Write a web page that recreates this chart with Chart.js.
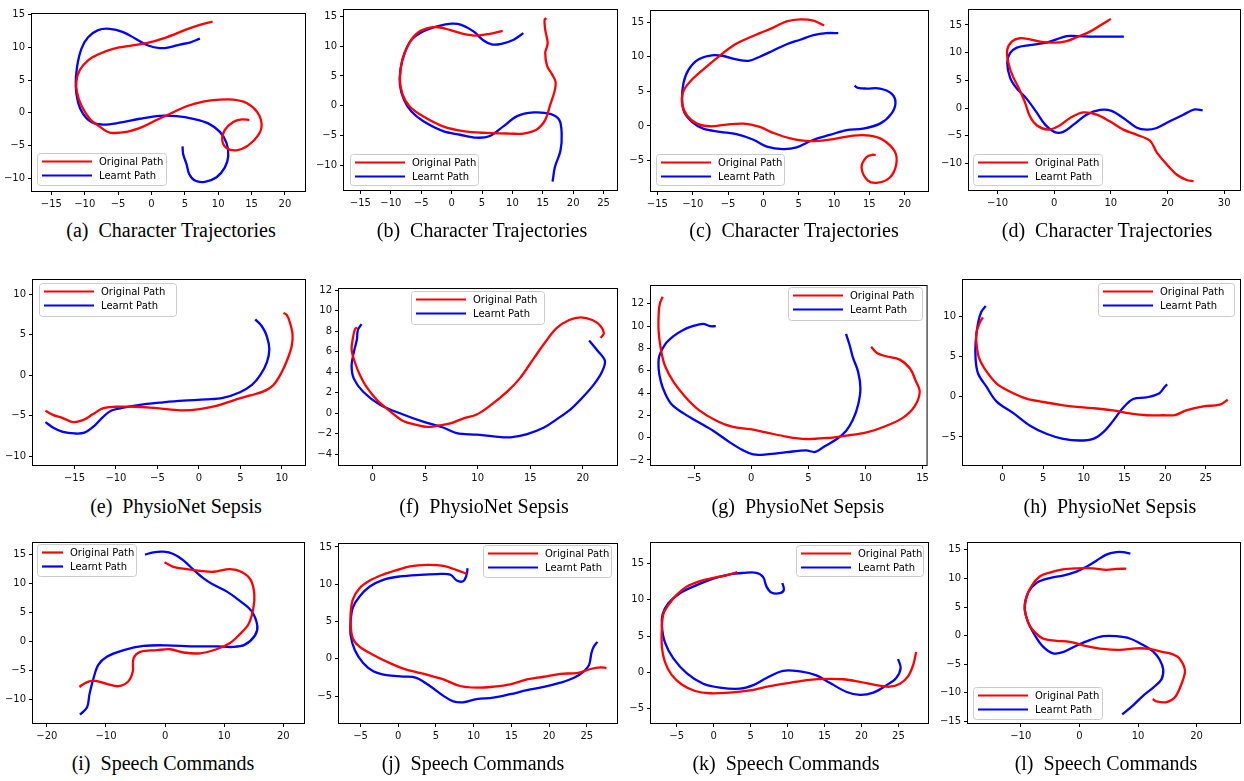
<!DOCTYPE html>
<html>
<head>
<meta charset="utf-8">
<script src="https://cdn.jsdelivr.net/npm/chart.js@4"></script>
<style>
  html, body { margin: 0; padding: 0; background: #fff; }
  body { width: 1244px; height: 781px; position: relative; overflow: hidden; }
  canvas { position: absolute; }
  .cap { position: absolute; font-family: "Liberation Serif", "Times New Roman", serif; font-size: 20px;
         color: #000; white-space: pre; transform: translateX(-50%); line-height: 24px; }
</style>
</head>
<body>
<script>
// Path data, [x, y] pairs
const aOriginal = [[9.15,13.9],[7.25,13.4],[5.25,12.7],[2.25,11.5],[-0.75,10.6],[-3.25,10.2],[-5.75,9.75],[-7.75,9.0],[-9.5,8.0],[-10.75,6.5],[-11.25,4.8],[-11.15,3.1],[-10.5,1.1],[-9.25,-0.9],[-7.75,-2.1],[-6.25,-3.0],[-3.75,-2.9],[-1.25,-2.1],[0.75,-1.1],[3.25,0.1],[5.25,1.0],[7.75,1.7],[10.25,2.0],[12.25,2.0],[14.25,1.5],[15.85,0.1],[16.5,-1.8],[16.0,-3.4],[14.5,-4.95],[12.75,-5.7],[11.25,-5.35],[10.6,-4.1],[11.0,-2.6],[12.25,-1.4],[13.5,-1.0],[14.65,-1.1]];
const aLearnt = [[7.25,11.3],[5.75,10.7],[4.25,10.4],[2.75,10.0],[1.25,9.85],[-0.5,10.25],[-2.25,11.2],[-4.25,12.3],[-6.25,12.8],[-8.0,12.6],[-9.5,11.5],[-10.5,9.75],[-11.15,7.0],[-11.35,4.1],[-11.0,1.6],[-10.25,-0.15],[-9.0,-1.4],[-7.25,-1.8],[-4.75,-1.5],[-1.75,-0.9],[1.25,-0.45],[3.75,-0.5],[6.25,-0.9],[8.5,-1.6],[10.25,-2.9],[11.25,-4.6],[11.5,-6.6],[11.0,-8.3],[9.75,-9.8],[8.0,-10.5],[6.5,-10.3],[5.65,-9.3],[5.25,-7.8],[4.75,-6.3],[4.65,-5.1]];

const bOriginal = [[8.4,12.6],[6.3,12.1],[4.1,11.8],[1.9,12.1],[-0.3,12.75],[-2.2,13.2],[-4.1,13.0],[-5.8,12.1],[-7.1,10.3],[-8.1,7.8],[-8.5,4.5],[-8.1,2.0],[-6.9,-0.15],[-4.7,-1.8],[-1.4,-3.5],[1.9,-4.3],[5.8,-4.6],[9.6,-4.7],[11.8,-4.7],[14.0,-4.0],[15.4,-2.4],[16.2,0.1],[16.9,2.3],[17.1,4.0],[16.5,5.3],[15.7,6.7],[15.4,8.9],[15.8,10.5],[15.4,12.75],[15.3,14.5],[15.6,14.7]];
const bLearnt = [[11.8,12.2],[10.2,11.1],[8.2,10.4],[6.6,10.3],[5.2,11.0],[3.6,12.5],[1.6,13.6],[0.0,13.8],[-2.2,13.4],[-4.7,12.5],[-6.6,11.1],[-7.7,8.9],[-8.4,6.2],[-8.5,3.4],[-7.8,0.9],[-6.6,-1.0],[-4.7,-2.6],[-1.4,-4.3],[1.4,-4.9],[4.1,-5.4],[6.3,-5.1],[8.5,-3.5],[10.7,-1.8],[13.5,-1.15],[16.2,-1.4],[17.7,-2.4],[18.1,-4.8],[17.9,-7.6],[17.0,-10.3],[16.6,-12.8]];

const cOriginal = [[8.6,14.5],[7.1,15.2],[5.2,15.4],[3.3,15.1],[1.4,14.2],[-0.5,13.4],[-2.35,12.6],[-4.2,11.65],[-6.1,10.2],[-8.0,8.6],[-10.1,6.7],[-11.3,5.05],[-11.5,3.2],[-10.8,1.5],[-9.4,0.33],[-7.5,-0.05],[-5.2,0.2],[-2.8,0.33],[-0.5,-0.15],[1.4,-1.0],[3.8,-1.8],[6.6,-2.2],[9.9,-1.9],[12.7,-1.4],[15.1,-1.4],[16.9,-2.0],[18.6,-3.7],[18.8,-5.6],[17.9,-7.45],[16.2,-8.2],[14.8,-7.9],[13.9,-6.0],[14.6,-4.5],[15.5,-4.15],[15.9,-4.25]];
const cLearnt = [[10.6,13.4],[8.9,13.4],[7.1,13.1],[5.2,12.45],[3.3,11.8],[1.4,10.9],[-0.5,10.0],[-2.1,9.4],[-3.8,9.6],[-5.65,10.1],[-7.3,10.2],[-9.2,9.6],[-10.6,8.1],[-11.3,6.2],[-11.5,3.9],[-11.2,2.0],[-10.1,0.6],[-8.5,-0.4],[-6.1,-0.85],[-3.8,-1.2],[-1.4,-2.0],[0.5,-3.0],[2.8,-3.35],[4.7,-3.1],[7.1,-2.0],[9.4,-1.3],[11.8,-0.6],[14.1,-0.4],[16.5,0.33],[18.1,1.75],[18.7,3.4],[18.1,4.7],[16.5,5.4],[14.6,5.4],[13.4,5.5],[12.9,5.8]];

const dOriginal = [[10.0,16.1],[8.1,14.9],[6.3,13.8],[4.2,12.9],[2.2,12.1],[-0.2,11.8],[-2.5,12.0],[-4.3,12.4],[-6.1,12.6],[-7.5,12.0],[-8.3,10.5],[-8.1,8.2],[-7.35,5.8],[-6.35,3.8],[-5.2,1.1],[-4.3,-1.5],[-3.1,-3.1],[-1.1,-3.9],[0.7,-3.3],[2.8,-1.8],[5.1,-0.8],[7.5,-1.2],[9.8,-2.4],[12.2,-3.9],[14.5,-4.8],[16.9,-5.9],[18.1,-8.0],[19.8,-10.1],[21.6,-12.0],[23.4,-13.0],[24.6,-13.2]];
const dLearnt = [[12.3,12.9],[9.8,12.9],[6.9,12.9],[3.9,13.0],[2.2,13.0],[0.4,12.4],[-1.9,11.7],[-4.3,11.35],[-6.6,10.9],[-7.8,9.9],[-8.3,8.2],[-7.8,5.5],[-6.6,3.5],[-4.9,1.7],[-3.2,-0.65],[-1.6,-3.0],[0.1,-4.35],[1.6,-4.3],[3.4,-3.0],[5.7,-1.2],[8.1,-0.35],[10.1,-0.5],[12.2,-1.8],[14.5,-3.5],[16.3,-3.9],[18.1,-3.6],[20.4,-2.4],[22.8,-1.2],[24.8,-0.25],[26.2,-0.4]];

const eOriginal = [[-18.5,-4.4],[-17.6,-4.9],[-16.4,-5.3],[-15.2,-5.8],[-14.0,-5.56],[-12.8,-4.84],[-11.6,-4.1],[-10.0,-3.9],[-7.9,-3.9],[-5.9,-4.0],[-3.9,-4.2],[-1.9,-4.35],[0.1,-4.2],[2.1,-3.8],[4.2,-3.1],[6.2,-2.5],[7.8,-2.0],[9.0,-1.2],[10.0,0.4],[10.7,2.0],[11.2,3.6],[11.3,5.0],[11.0,6.45],[10.6,7.45],[10.2,7.7]];
const eLearnt = [[-18.5,-5.8],[-17.6,-6.45],[-16.4,-7.0],[-15.0,-7.2],[-13.8,-7.1],[-12.6,-6.25],[-11.6,-5.2],[-10.6,-4.4],[-8.75,-3.95],[-6.7,-3.6],[-4.3,-3.35],[-1.9,-3.15],[0.9,-3.0],[2.9,-2.8],[4.96,-2.1],[6.4,-1.2],[7.4,0.0],[8.2,1.6],[8.5,3.2],[8.2,4.8],[7.6,6.05],[6.8,6.9]];

const fOriginal = [[21.7,7.36],[22.0,7.8],[21.7,8.5],[20.9,9.1],[19.8,9.36],[18.7,9.1],[17.5,8.3],[16.4,6.9],[15.3,5.3],[14.0,3.4],[12.8,2.1],[11.3,0.83],[9.9,-0.13],[8.65,-0.5],[7.4,-1.0],[6.3,-1.2],[5.2,-1.34],[4.2,-1.15],[2.9,-0.76],[1.65,0.2],[0.4,1.3],[-0.6,2.6],[-1.2,3.7],[-1.7,5.0],[-2.0,6.2],[-1.9,7.2],[-1.7,8.15],[-1.5,8.4]];
const fLearnt = [[20.6,7.1],[21.4,6.1],[22.1,5.1],[21.8,4.0],[21.0,2.74],[19.9,1.46],[18.8,0.35],[17.5,-0.6],[16.3,-1.4],[14.7,-2.04],[13.1,-2.36],[11.5,-2.26],[9.9,-2.1],[8.0,-1.94],[6.7,-1.4],[4.8,-0.83],[2.9,-0.13],[0.7,0.83],[-0.9,2.1],[-1.8,3.4],[-2.0,4.65],[-1.8,5.9],[-1.5,7.2],[-1.4,8.15],[-1.05,8.7]];

const gOriginal = [[-7.75,12.64],[-8.0,12.0],[-8.1,11.1],[-8.1,9.5],[-7.9,7.9],[-7.55,6.45],[-6.8,5.0],[-5.8,3.7],[-4.6,2.5],[-3.0,1.5],[-1.6,0.96],[-0.1,0.76],[1.3,0.47],[3.1,0.09],[4.8,-0.12],[6.6,-0.03],[8.3,0.18],[10.1,0.47],[11.8,1.05],[13.3,1.8],[14.3,2.8],[14.75,4.1],[14.4,5.1],[13.9,6.2],[13.0,7.0],[11.8,7.3],[11.0,7.6],[10.5,8.15]];
const gLearnt = [[-3.1,10.0],[-3.6,10.0],[-4.2,10.2],[-5.0,10.04],[-5.95,9.66],[-6.8,9.1],[-7.55,8.35],[-8.05,7.3],[-8.1,6.16],[-7.9,5.0],[-7.55,4.0],[-6.97,3.0],[-5.95,2.2],[-4.8,1.5],[-3.3,0.6],[-1.9,-0.4],[-0.7,-1.14],[0.17,-1.5],[1.34,-1.5],[3.1,-1.3],[4.8,-1.14],[5.6,-1.28],[6.3,-0.85],[7.5,-0.12],[8.3,0.6],[8.9,1.6],[9.36,2.95],[9.56,4.4],[9.36,5.9],[8.9,7.2],[8.6,8.35],[8.3,9.3]];

const hOriginal = [[-2.4,9.9],[-2.8,9.2],[-3.2,8.0],[-3.2,6.75],[-2.9,4.9],[-2.2,3.5],[-0.74,1.67],[0.9,0.65],[2.95,-0.24],[5.0,-0.65],[7.5,-1.06],[9.5,-1.3],[11.56,-1.46],[13.6,-1.7],[15.65,-2.07],[17.7,-2.3],[19.75,-2.3],[21.2,-2.28],[22.6,-1.7],[24.7,-1.2],[26.7,-0.98],[27.7,-0.37]];
const hLearnt = [[-2.05,11.3],[-2.6,10.6],[-3.0,9.2],[-3.3,6.75],[-3.3,4.7],[-3.0,2.9],[-1.97,1.26],[-0.74,-0.57],[1.3,-2.0],[3.4,-3.6],[5.4,-4.6],[7.46,-5.24],[9.5,-5.45],[11.15,-5.24],[12.4,-4.4],[13.6,-3.0],[14.8,-1.4],[16.07,-0.28],[17.7,-0.08],[19.3,0.45],[19.96,1.26],[20.25,1.55]];

const iOriginal = [[-0.1,13.7],[1.4,12.9],[3.66,12.5],[5.9,12.2],[8.2,12.05],[11.0,12.5],[12.96,12.0],[14.5,10.6],[15.1,8.1],[14.9,5.6],[14.1,3.0],[12.7,1.35],[11.0,-0.23],[8.7,-1.3],[5.9,-2.0],[3.1,-1.86],[0.85,-1.3],[-1.4,-1.46],[-4.2,-1.75],[-5.35,-2.9],[-5.46,-5.1],[-6.2,-6.8],[-7.9,-7.66],[-9.86,-7.26],[-12.1,-6.7],[-13.5,-7.1],[-14.5,-7.8]];
const iLearnt = [[-3.4,15.0],[-1.97,15.4],[-0.28,15.5],[1.4,15.1],[3.1,14.0],[4.8,12.4],[6.5,10.9],[8.2,9.8],[10.4,8.67],[12.7,7.0],[14.6,5.3],[15.6,2.76],[15.2,1.07],[13.5,-0.5],[11.5,-0.9],[8.7,-0.8],[4.8,-0.8],[0.28,-0.62],[-3.66,-0.73],[-7.0,-1.46],[-9.86,-2.6],[-11.3,-4.0],[-12.1,-6.25],[-12.8,-9.07],[-13.2,-11.3],[-14.4,-12.56]];

const jOriginal = [[9.1,11.4],[7.76,11.9],[6.0,12.46],[3.77,12.6],[1.55,12.4],[-0.2,11.9],[-2.0,11.3],[-3.77,10.5],[-5.1,9.5],[-6.0,8.0],[-6.3,6.2],[-6.3,4.5],[-6.0,2.7],[-5.1,1.6],[-3.3,0.53],[-1.1,-0.57],[1.1,-1.45],[3.77,-2.1],[6.0,-2.76],[8.2,-3.64],[10.4,-3.86],[12.6,-3.73],[14.85,-3.42],[17.07,-2.76],[19.3,-2.4],[21.5,-2.0],[23.7,-1.9],[25.5,-1.36],[26.8,-1.14],[27.6,-1.23]];
const jLearnt = [[9.2,12.15],[9.0,11.05],[8.6,10.4],[7.76,10.5],[6.9,11.3],[5.1,11.36],[2.9,11.27],[0.22,11.05],[-2.0,10.6],[-3.77,9.7],[-5.1,8.4],[-6.0,6.9],[-6.3,5.1],[-6.3,3.16],[-5.76,1.18],[-4.65,-0.57],[-3.3,-1.67],[-1.55,-2.19],[0.66,-2.37],[2.4,-2.54],[4.2,-3.64],[6.0,-4.96],[7.3,-5.7],[8.6,-5.83],[10.4,-5.4],[12.6,-5.2],[14.85,-4.74],[17.07,-4.2],[19.3,-3.77],[21.5,-3.2],[23.3,-2.54],[24.6,-1.67],[25.3,-0.8],[25.6,0.75],[25.9,1.6],[26.4,2.28]];

const kOriginal = [[3.2,13.8],[1.76,13.36],[-0.05,13.0],[-1.85,12.56],[-3.65,11.8],[-5.0,10.67],[-6.1,9.3],[-6.8,8.0],[-7.0,5.96],[-7.0,3.5],[-6.6,1.48],[-5.7,-0.3],[-4.3,-1.66],[-2.5,-2.56],[-0.5,-2.87],[2.2,-2.78],[4.9,-2.47],[7.6,-1.88],[10.3,-1.43],[13.0,-1.03],[15.3,-0.9],[17.5,-0.94],[19.8,-1.3],[22.0,-1.75],[23.8,-1.97],[25.2,-1.57],[26.3,-0.54],[27.0,1.03],[27.4,2.8]];
const kLearnt = [[9.3,12.3],[9.5,11.35],[8.96,10.9],[7.8,11.0],[7.16,11.8],[6.7,13.1],[5.8,13.7],[4.0,13.68],[2.2,13.5],[-0.05,12.9],[-2.3,12.0],[-4.55,10.9],[-6.1,9.55],[-6.9,8.0],[-7.0,6.4],[-6.6,4.17],[-5.45,1.93],[-3.65,-0.09],[-1.4,-1.57],[0.86,-2.1],[3.56,-2.24],[5.36,-1.75],[7.16,-0.76],[9.4,0.22],[11.7,0.13],[13.9,-0.4],[15.7,-1.43],[18.0,-2.69],[19.8,-3.1],[21.6,-2.78],[23.4,-1.75],[24.7,-0.76],[25.3,0.58],[24.95,1.84]];

const lOriginal = [[8.0,11.7],[6.3,11.66],[4.6,11.5],[2.3,11.77],[-0.5,11.77],[-2.8,11.6],[-5.07,11.03],[-6.77,10.34],[-8.2,8.63],[-9.05,6.63],[-9.33,4.63],[-8.76,2.34],[-7.9,0.91],[-6.2,-0.51],[-3.9,-0.91],[-1.65,-1.09],[1.2,-1.83],[4.04,-2.34],[6.9,-2.5],[9.7,-2.23],[12.0,-2.34],[14.3,-2.9],[15.7,-3.2],[17.0,-3.94],[18.0,-6.1],[17.4,-8.5],[16.3,-10.8],[14.85,-11.66],[13.1,-11.5],[12.5,-11.1]];
const lLearnt = [[8.7,14.34],[7.46,14.6],[6.3,14.6],[4.6,14.17],[2.9,13.1],[1.2,12.06],[-0.5,11.2],[-2.8,10.5],[-5.07,10.06],[-7.34,9.2],[-8.76,7.5],[-9.33,4.9],[-8.76,2.34],[-7.6,0.06],[-6.2,-1.94],[-4.5,-3.1],[-2.8,-2.9],[-0.5,-1.77],[1.76,-0.8],[4.04,-0.11],[6.3,-0.11],[8.6,-0.51],[10.9,-1.66],[12.6,-2.8],[13.7,-4.23],[14.3,-5.94],[14.0,-7.66],[12.6,-9.1],[10.9,-10.5],[9.16,-12.2],[7.3,-13.8]];

// Tick values
const ticksX_a = [-15,-10,-5,0,5,10,15,20], ticksY_a = [-10,-5,0,5,10,15];
const ticksX_b = [-15,-10,-5,0,5,10,15,20,25], ticksY_b = [-10,-5,0,5,10,15];
const ticksX_c = [-15,-10,-5,0,5,10,15,20], ticksY_c = [-5,0,5,10,15];
const ticksX_d = [-10,0,10,20,30], ticksY_d = [-10,-5,0,5,10,15];
const ticksX_e = [-15,-10,-5,0,5,10], ticksY_e = [-10,-5,0,5,10];
const ticksX_f = [0,5,10,15,20], ticksY_f = [-4,-2,0,2,4,6,8,10,12];
const ticksX_g = [-5,0,5,10,15], ticksY_g = [-2,0,2,4,6,8,10,12];
const ticksX_h = [0,5,10,15,20,25], ticksY_h = [-5,0,5,10];
const ticksX_i = [-20,-10,0,10,20], ticksY_i = [-10,-5,0,5,10,15];
const ticksX_j = [-5,0,5,10,15,20,25], ticksY_j = [-5,0,5,10,15];
const ticksX_k = [-5,0,5,10,15,20,25], ticksY_k = [-5,0,5,10,15];
const ticksX_l = [-10,0,10,20], ticksY_l = [-15,-10,-5,0,5,10,15];

const seriesNames = ['Original Path', 'Learnt Path'];
const captions = ['(a)  Character Trajectories','(b)  Character Trajectories','(c)  Character Trajectories','(d)  Character Trajectories',
  '(e)  PhysioNet Sepsis','(f)  PhysioNet Sepsis','(g)  PhysioNet Sepsis','(h)  PhysioNet Sepsis',
  '(i)  Speech Commands','(j)  Speech Commands','(k)  Speech Commands','(l)  Speech Commands'];

// Layout: plot box [l,t,r,b] on page, axis limits, legend box [x,y,w,h,handle], caption centre
const panels = [
  {box:[32,10,305,191], xr:[-17.9,23.0], yr:[-11.9,15.05], tx:ticksX_a, ty:ticksY_a, leg:[37,153,129,32,50], cap:[171,218], o:aOriginal, l:aLearnt},
  {box:[344,6,617,190], xr:[-17.7,27.2], yr:[-14.2,16.1], tx:ticksX_b, ty:ticksY_b, leg:[350,154,128,31,50], cap:[482,218], o:bOriginal, l:bLearnt},
  {box:[651,7,928,191], xr:[-15.9,23.3], yr:[-9.4,16.6], tx:ticksX_c, ty:ticksY_c, leg:[656,154,128,31,50], cap:[794,218], o:cOriginal, l:cLearnt},
  {box:[969,6,1240,190], xr:[-15.05,32.8], yr:[-14.8,17.7], tx:ticksX_d, ty:ticksY_d, leg:[973,154,129,31,50], cap:[1107,218], o:dOriginal, l:dLearnt},
  {box:[33,276,305,465], xr:[-20.0,12.8], yr:[-11.1,11.77], tx:ticksX_e, ty:ticksY_e, leg:[39,283,137,33,50], cap:[176,494], o:eOriginal, l:eLearnt},
  {box:[339,285,617,465], xr:[-3.2,23.25], yr:[-5.06,12.13], tx:ticksX_f, ty:ticksY_f, leg:[411,291,133,33,50], cap:[484,494], o:fOriginal, l:fLearnt},
  {box:[651,282,927,465], xr:[-8.77,15.35], yr:[-2.45,13.6], tx:ticksX_g, ty:ticksY_g, leg:[788,287,134,33,50], cap:[798,494], o:gOriginal, l:gLearnt},
  {box:[963,276,1240,465], xr:[-4.85,29.2], yr:[-8.5,14.55], tx:ticksX_h, ty:ticksY_h, leg:[1098,283,136,33,50], cap:[1110,494], o:hOriginal, l:hLearnt},
  {box:[33,539,304,723], xr:[-22.35,23.5], yr:[-14.0,17.0], tx:ticksX_i, ty:ticksY_i, leg:[37,544,99,32,21], cap:[163,751], o:iOriginal, l:iLearnt},
  {box:[339,540,617,723], xr:[-7.85,29.0], yr:[-8.6,15.4], tx:ticksX_j, ty:ticksY_j, leg:[483,545,128,32,50], cap:[473,751], o:jOriginal, l:jLearnt},
  {box:[651,539,928,723], xr:[-8.47,29.0], yr:[-6.96,17.8], tx:ticksX_k, ty:ticksY_k, leg:[796,545,127,31,50], cap:[786,751], o:kOriginal, l:kLearnt},
  {box:[968,539,1240,723], xr:[-19.0,27.4], yr:[-15.3,16.2], tx:ticksX_l, ty:ticksY_l, leg:[973,687,129,32,50], cap:[1106,751], o:lOriginal, l:lLearnt}
];

const PAD_L = 45, PAD_T = 5, PAD_R = 5, PAD_B = 25;
const colors = ['#ff0000', '#0000ff'];

// Frame on all four sides + matplotlib-style legend
const mplFrame = {
  id: 'mplFrame',
  afterDraw(chart, args, opts) {
    const { ctx, chartArea: a } = chart;
    ctx.save();
    ctx.strokeStyle = '#000';
    ctx.lineWidth = 1;
    ctx.strokeRect(a.left - 0.5, a.top - 0.5, a.right - a.left + 1, a.bottom - a.top + 1);

    const [x, y, w, h, hl] = opts.legend;
    ctx.beginPath();
    ctx.roundRect(x + 0.5, y + 0.5, w, h, 3);
    ctx.fillStyle = 'rgba(255,255,255,0.8)';
    ctx.fill();
    ctx.strokeStyle = '#cccccc';
    ctx.stroke();
    ctx.font = '10px "DejaVu Sans"';
    ctx.textBaseline = 'middle';
    seriesNames.forEach((name, i) => {
      const ry = y + 8.5 + i * 14;
      ctx.beginPath();
      ctx.moveTo(x + 5, ry);
      ctx.lineTo(x + 5 + hl, ry);
      ctx.strokeStyle = colors[i];
      ctx.lineWidth = 2.2;
      ctx.stroke();
      ctx.fillStyle = '#000';
      ctx.fillText(name, x + 5 + hl + 7, ry + 0.5);
    });
    ctx.restore();
  }
};

const fmt = v => (v < 0 ? '\u2212' + Math.abs(v) : String(v));

panels.forEach((p, idx) => {
  const [l, t, r, b] = p.box;
  const cw = r - l + PAD_L + PAD_R, ch = b - t + PAD_T + PAD_B;
  const cx = l - PAD_L, cy = t - PAD_T;
  const canvas = document.createElement('canvas');
  canvas.width = cw; canvas.height = ch;
  canvas.style.left = cx + 'px'; canvas.style.top = cy + 'px';
  canvas.style.width = cw + 'px'; canvas.style.height = ch + 'px';
  document.body.appendChild(canvas);

  const cap = document.createElement('div');
  cap.className = 'cap';
  cap.textContent = captions[idx];
  cap.style.left = p.cap[0] + 'px';
  cap.style.top = p.cap[1] + 'px';
  document.body.appendChild(cap);

  const leg = [p.leg[0] - cx, p.leg[1] - cy, p.leg[2], p.leg[3], p.leg[4]];

  const axis = (range, ticks, isX) => ({
    type: 'linear',
    min: range[0], max: range[1],
    afterBuildTicks: s => { s.ticks = ticks.map(v => ({ value: v })); },
    afterFit: s => { if (isX) s.height = PAD_B; else s.width = PAD_L; },
    border: { display: false },
    grid: { display: true, drawOnChartArea: false, drawTicks: true, tickLength: 4, color: '#000', tickWidth: 1 },
    ticks: {
      autoSkip: false, maxRotation: 0, padding: 3, color: '#111',
      font: { family: 'DejaVu Sans', size: 10 },
      callback: v => fmt(v)
    }
  });

  new Chart(canvas.getContext('2d'), {
    type: 'scatter',
    data: {
      datasets: [p.o, p.l].map((pts, i) => ({
        label: seriesNames[i],
        data: pts.map(([x, y]) => ({ x, y })),
        showLine: true,
        borderColor: colors[i],
        backgroundColor: colors[i],
        borderWidth: 2.3,
        pointRadius: 0,
        tension: 0.35
      }))
    },
    options: {
      responsive: false,
      animation: false,
      devicePixelRatio: 1,
      layout: { padding: { left: 0, top: PAD_T, right: PAD_R, bottom: 0 } },
      plugins: { legend: { display: false }, tooltip: { enabled: false }, mplFrame: { legend: leg } },
      scales: { x: axis(p.xr, p.tx, true), y: axis(p.yr, p.ty, false) }
    },
    plugins: [mplFrame]
  });
});
</script>
</body>
</html>
